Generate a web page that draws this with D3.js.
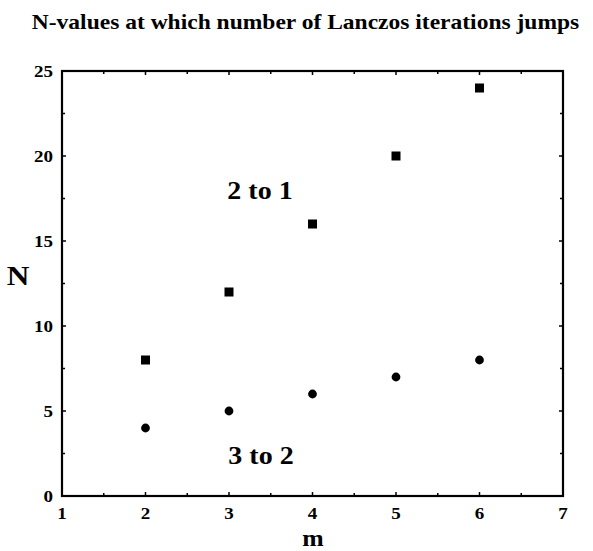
<!DOCTYPE html>
<html>
<head>
<meta charset="utf-8">
<script src="https://cdn.jsdelivr.net/npm/d3@7"></script>
<style>
  html, body { margin: 0; padding: 0; background: #fff; }
  svg { display: block; }
  text { font-family: "Liberation Serif", "DejaVu Serif", serif; font-weight: bold; fill: #000; }
</style>
</head>
<body>
<svg id="chart" width="593" height="551"></svg>
<script>
// m values and the N at which the iteration count jumps
const mValues = [2, 3, 4, 5, 6];
const jump2to1 = [8, 12, 16, 20, 24];
const jump3to2 = [4, 5, 6, 7, 8];
const xTicks = [1, 2, 3, 4, 5, 6, 7];
const yTicks = [0, 5, 10, 15, 20, 25];
const xMinorTicks = [1.5, 2.5, 3.5, 4.5, 5.5, 6.5];
const yMinorTicks = [2.5, 7.5, 12.5, 17.5, 22.5];

const svg = d3.select("#chart");
const plotL = 62, plotR = 563, plotT = 71, plotB = 496;
const stretch = 1.12; // wide-set type

const x = d3.scaleLinear().domain([1, 7]).range([plotL, plotR]);
const y = d3.scaleLinear().domain([0, 25]).range([plotB, plotT]);

function label(parent, px, py, size, str, anchor) {
  return parent.append("text")
    .attr("transform", `translate(${px},${py}) scale(${stretch},1)`)
    .attr("text-anchor", anchor || "middle")
    .style("font-size", size + "px")
    .text(str);
}

label(svg, 305.5, 28.5, 21, "N-values at which number of Lanczos iterations jumps");

// inward ticks on all four sides
const g = svg.append("g");
const tickLen = 4, minorLen = 3;
function xTickMarks(vals, len) {
  vals.forEach(v => {
    g.append("line").attr("x1", x(v)).attr("x2", x(v)).attr("y1", plotB).attr("y2", plotB - len);
    g.append("line").attr("x1", x(v)).attr("x2", x(v)).attr("y1", plotT).attr("y2", plotT + len);
  });
}
function yTickMarks(vals, len) {
  vals.forEach(v => {
    g.append("line").attr("y1", y(v)).attr("y2", y(v)).attr("x1", plotL).attr("x2", plotL + len);
    g.append("line").attr("y1", y(v)).attr("y2", y(v)).attr("x1", plotR).attr("x2", plotR - len);
  });
}
xTickMarks(xTicks, tickLen); xTickMarks(xMinorTicks, minorLen);
yTickMarks(yTicks, tickLen); yTickMarks(yMinorTicks, minorLen);
g.selectAll("line").attr("stroke", "#000").attr("stroke-width", 1.5);

svg.append("rect")
  .attr("x", plotL).attr("y", plotT)
  .attr("width", plotR - plotL).attr("height", plotB - plotT)
  .attr("fill", "none").attr("stroke", "#000").attr("stroke-width", 2.2);

// tick labels
const xl = svg.append("g");
xTicks.forEach(d => label(xl, x(d), 519, 17, d));
const yl = svg.append("g");
yTicks.forEach(d => label(yl, 53, y(d) + 6, 17, d, "end"));

label(svg, 313, 546, 23, "m");
label(svg, 18, 285, 28, "N");

// markers
const sq = 9;
svg.append("g").selectAll("rect").data(mValues).join("rect")
  .attr("x", (d) => x(d) - sq / 2)
  .attr("y", (d, i) => y(jump2to1[i]) - sq / 2)
  .attr("width", sq).attr("height", sq).attr("fill", "#000");
svg.append("g").selectAll("circle").data(mValues).join("circle")
  .attr("cx", d => x(d))
  .attr("cy", (d, i) => y(jump3to2[i]))
  .attr("r", 4.4).attr("fill", "#000");

label(svg, 260, 199, 25, "2 to 1");
label(svg, 261, 464, 25, "3 to 2");
</script>
</body>
</html>
